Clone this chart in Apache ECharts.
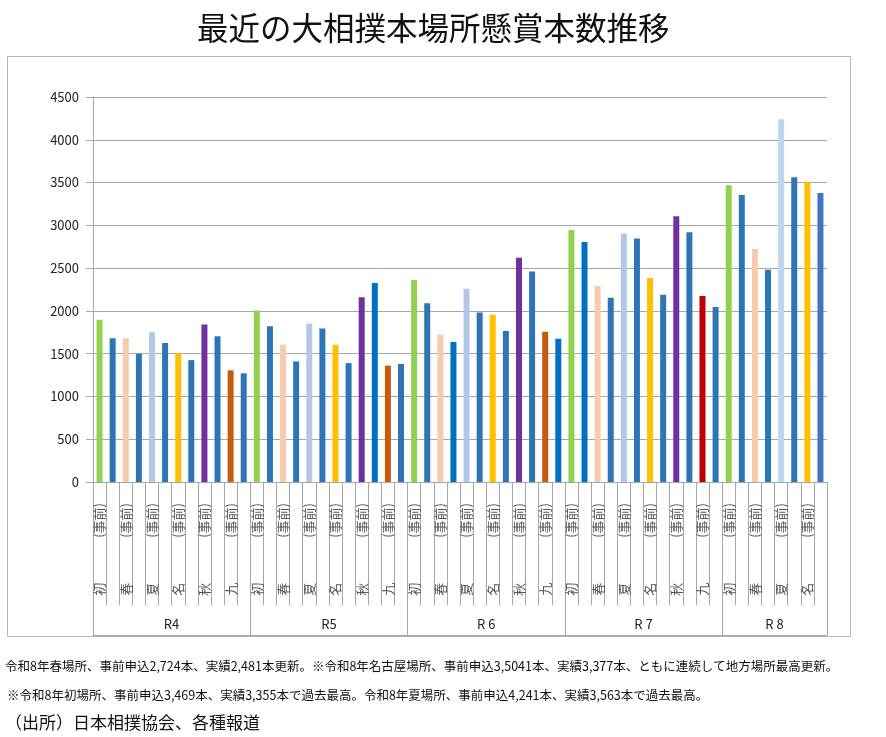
<!DOCTYPE html>
<html>
<head>
<meta charset="utf-8">
<script src="https://cdn.jsdelivr.net/npm/echarts@6/dist/echarts.min.js"></script>
<style>
html,body{margin:0;padding:0;background:#fff;}
#chart{width:886px;height:737px;}
</style>
</head>
<body>
<div id="chart"></div>
<script>
// ---- data ----
const groups = ['R4', 'R5', 'R 6', 'R 7', 'R 8'];
const bashoPerGroup = [6, 6, 6, 6, 4];
const bashoNames = ['初', '春', '夏', '名', '秋', '九'];
// 事前申込 (pre-applied) per basho, in order
const preCounts = [
  1895, 1680, 1750, 1505, 1840, 1305,   // R4
  2005, 1605, 1850, 1605, 2160, 1360,   // R5
  2360, 1720, 2260, 1955, 2620, 1755,   // R6
  2945, 2290, 2905, 2385, 3105, 2175,   // R7
  3469, 2724, 4241, 3504                // R8
];
// 実績 (actual) per basho, in order
const actualCounts = [
  1680, 1500, 1625, 1425, 1705, 1270,
  1820, 1410, 1795, 1390, 2325, 1380,
  2090, 1635, 1980, 1765, 2460, 1675,
  2805, 2155, 2845, 2190, 2920, 2045,
  3355, 2481, 3563, 3377
];
const yTicks = [0, 500, 1000, 1500, 2000, 2500, 3000, 3500, 4000, 4500];
const preLabel = '(事前)';
const titleText = '最近の大相撲本場所懸賞本数推移';
const noteLines = [
  '令和8年春場所、事前申込2,724本、実績2,481本更新。※令和8年名古屋場所、事前申込3,5041本、実績3,377本、ともに連続して地方場所最高更新。',
  '※令和8年初場所、事前申込3,469本、実績3,355本で過去最高。令和8年夏場所、事前申込4,241本、実績3,563本で過去最高。'
];
const sourceText = '（出所）日本相撲協会、各種報道';

// ---- styles ----
const preColors = {'初':'#92D050','春':'#F8CBAD','夏':'#B4C7E7','名':'#FFC000','秋':'#7030A0','九':'#C55A11'};
const preColorOverride = {'R 7|九':'#C00000', 'R 8|夏':'#BDD7EE'};
const actualColor = '#2E75B6';
const actualColorOverride = {'R5|秋':'#0070C0','R 6|春':'#0070C0','R 6|九':'#0070C0','R 7|初':'#0070C0','R 8|名':'#4472C4'};
const FONT = '"Noto Sans CJK JP", "Noto Sans", sans-serif';
const gridColor = '#a6a6a6';

// ---- build categories ----
const cats = [];
const barData = [];
const groupStart = [];
let k = 0;
groups.forEach((g, gi) => {
  groupStart.push(cats.length);
  for (let b = 0; b < bashoPerGroup[gi]; b++) {
    const name = bashoNames[b];
    const key = g + '|' + name;
    cats.push(key + '|pre');
    barData.push({value: preCounts[k], itemStyle: {color: preColorOverride[key] || preColors[name]}});
    cats.push(key + '|act');
    barData.push({value: actualCounts[k], itemStyle: {color: actualColorOverride[key] || actualColor}});
    k++;
  }
});
const groupBoundary = new Set(groupStart);
const groupLabelIdx = {};
groups.forEach((g, gi) => { groupLabelIdx[groupStart[gi] + bashoPerGroup[gi] - 1] = g; });

const chart = echarts.init(document.getElementById('chart'));
chart.setOption({
  animation: false,
  backgroundColor: '#fff',
  textStyle: {fontFamily: FONT},
  title: [
    {text: titleText, left: 192, top: 7, textStyle: {fontSize: 31.5, fontWeight: 'normal', color: '#111', fontFamily: FONT}},
    {text: noteLines[0], left: 0, top: 655, textStyle: {fontSize: 12.5, fontWeight: 'normal', color: '#111', fontFamily: FONT}},
    {text: noteLines[1], left: 2, top: 684, textStyle: {fontSize: 12.5, fontWeight: 'normal', color: '#111', fontFamily: FONT}},
    {text: sourceText, left: 0, top: 709, textStyle: {fontSize: 17, fontWeight: 'normal', color: '#111', fontFamily: FONT}}
  ],
  graphic: [{
    type: 'rect', z: -1, silent: true,
    shape: {x: 7.5, y: 56.5, width: 843, height: 580},
    style: {fill: 'none', stroke: '#b4b4b4', lineWidth: 1}
  }],
  grid: {left: 93, right: 59, top: 97, bottom: 255, containLabel: false},
  xAxis: [
    {
      type: 'category', data: cats, boundaryGap: true,
      axisLine: {show: true, lineStyle: {color: gridColor}},
      axisTick: {show: true, interval: 0, length: 123, lineStyle: {color: gridColor}},
      axisLabel: {
        interval: 0, rotate: 90, margin: 21, color: '#595959', fontFamily: FONT,
        formatter: (v) => {
          const p = v.split('|');
          return p[2] === 'pre' ? '{a|' + p[1] + '}{b|' + preLabel + '}' : '';
        },
        rich: {
          a: {fontSize: 13, width: 58, align: 'left', color: '#595959', fontFamily: FONT},
          b: {fontSize: 13, color: '#595959', fontFamily: FONT}
        }
      }
    },
    {
      type: 'category', data: cats, boundaryGap: true, position: 'bottom', offset: 153,
      axisLine: {show: true, lineStyle: {color: gridColor}},
      axisTick: {show: true, inside: true, length: 30, lineStyle: {color: gridColor},
        interval: (idx) => groupBoundary.has(idx)},
      axisLabel: {
        inside: true, margin: 4, color: '#222', fontSize: 13, fontFamily: FONT,
        interval: (idx) => groupLabelIdx[idx] !== undefined,
        formatter: (v, idx) => '{g|' + (groupLabelIdx[idx] || '') + '}',
        rich: {g: {fontSize: 13, color: '#222', padding: [0, 0, 0, 13], fontFamily: FONT}}
      }
    }
  ],
  yAxis: {
    type: 'value', min: yTicks[0], max: yTicks[yTicks.length - 1], interval: yTicks[1] - yTicks[0],
    axisLine: {show: true, lineStyle: {color: gridColor}},
    axisTick: {show: true, length: 7, lineStyle: {color: gridColor}},
    axisLabel: {margin: 14, fontSize: 13, color: '#222', fontFamily: FONT, formatter: (v) => String(v)},
    splitLine: {show: true, lineStyle: {color: gridColor}}
  },
  series: [{
    type: 'bar', xAxisIndex: 0, data: barData, barWidth: 6
  }]
});
</script>
</body>
</html>
